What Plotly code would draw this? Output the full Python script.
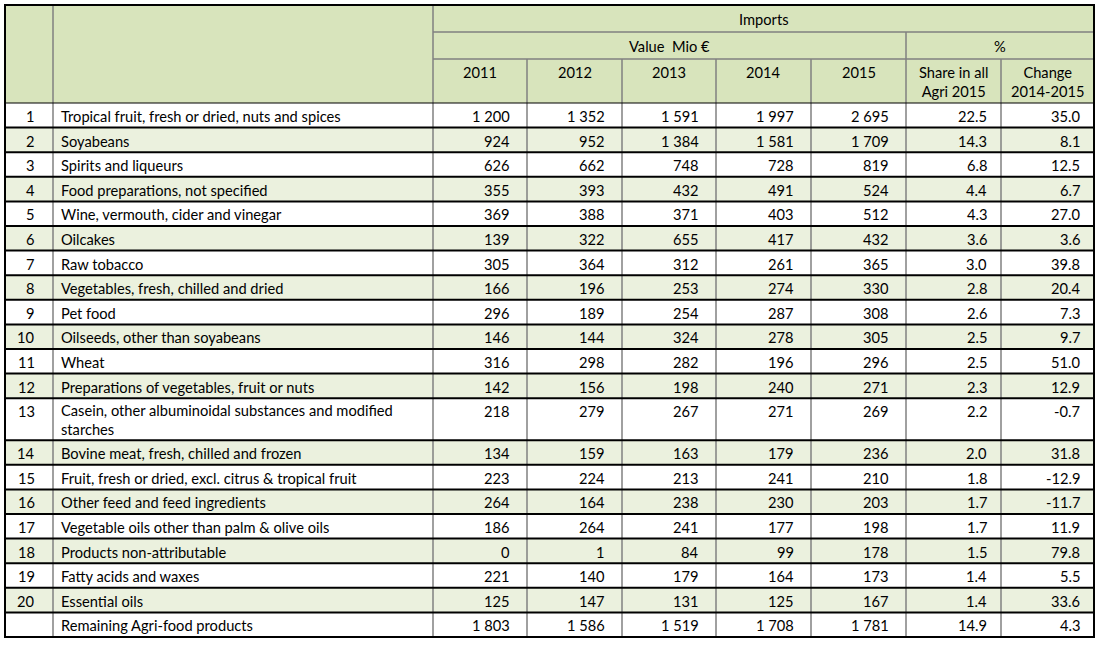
import plotly.graph_objects as go

# ---------------- data ----------------
ranks = ["1", "2", "3", "4", "5", "6", "7", "8", "9", "10", "11", "12", "13", "14",
         "15", "16", "17", "18", "19", "20", ""]
labels = [
    "Tropical fruit, fresh or dried, nuts and spices",
    "Soyabeans",
    "Spirits and liqueurs",
    "Food preparations, not specified",
    "Wine, vermouth, cider and vinegar",
    "Oilcakes",
    "Raw tobacco",
    "Vegetables, fresh, chilled and dried",
    "Pet food",
    "Oilseeds, other than soyabeans",
    "Wheat",
    "Preparations of vegetables, fruit or nuts",
    "Casein, other albuminoidal substances and modified<br>starches",
    "Bovine meat, fresh, chilled and frozen",
    "Fruit, fresh or dried, excl. citrus & tropical fruit",
    "Other feed and feed ingredients",
    "Vegetable oils other than palm & olive oils",
    "Products non-attributable",
    "Fatty acids and waxes",
    "Essential oils",
    "Remaining Agri-food products",
]
v2011 = [1200, 924, 626, 355, 369, 139, 305, 166, 296, 146, 316, 142, 218, 134, 223, 264, 186, 0, 221, 125, 1803]
v2012 = [1352, 952, 662, 393, 388, 322, 364, 196, 189, 144, 298, 156, 279, 159, 224, 164, 264, 1, 140, 147, 1586]
v2013 = [1591, 1384, 748, 432, 371, 655, 312, 253, 254, 324, 282, 198, 267, 163, 213, 238, 241, 84, 179, 131, 1519]
v2014 = [1997, 1581, 728, 491, 403, 417, 261, 274, 287, 278, 196, 240, 271, 179, 241, 230, 177, 99, 164, 125, 1708]
v2015 = [2695, 1709, 819, 524, 512, 432, 365, 330, 308, 305, 296, 271, 269, 236, 210, 203, 198, 178, 173, 167, 1781]
share = [22.5, 14.3, 6.8, 4.4, 4.3, 3.6, 3.0, 2.8, 2.6, 2.5, 2.5, 2.3, 2.2, 2.0, 1.8, 1.7, 1.7, 1.5, 1.4, 1.4, 14.9]
change = [35.0, 8.1, 12.5, 6.7, 27.0, 3.6, 39.8, 20.4, 7.3, 9.7, 51.0, 12.9, -0.7, 31.8, -12.9, -11.7, 11.9, 79.8, 5.5, 33.6, 4.3]

years = ["2011", "2012", "2013", "2014", "2015"]
header_top = "Imports"
header_value = "Value  Mio €"
header_pct = "%"
header_share = "Share in all<br>Agri 2015"
header_change = "Change<br>2014-2015"

# ---------------- layout constants ----------------
W, H = 1100, 646
col_edges = [5, 53, 433, 527, 622, 716, 811, 906, 1001, 1094]
hdr_y = [5, 32, 59, 103]
row_h = 24.6
tall_h = 42.0
FONT = "Lato"
FS = 14.67
HDR_FILL = "#D8E4BC"
ALT_FILL = "#EBF1DE"
GREY = "#808080"


def fmt_int(v):
    return f"{v:,}".replace(",", " ")


def fmt_pct(v):
    return f"{v:.1f}"


# row tops
row_tops = []
y = hdr_y[-1]
for lab in labels:
    row_tops.append(y)
    y += tall_h if "<br>" in lab else row_h
table_bottom = y

shapes = []
annotations = []


def rect(x0, y0, x1, y1, fill):
    shapes.append(dict(type="rect", xref="x", yref="y", x0=x0, x1=x1, y0=y0, y1=y1,
                       fillcolor=fill, line=dict(width=0), layer="below"))


def line(x0, y0, x1, y1, color, width):
    shapes.append(dict(type="line", xref="x", yref="y", x0=x0, x1=x1, y0=y0, y1=y1,
                       line=dict(color=color, width=width), layer="above"))


def text(x, y, s, xanchor="center", yanchor="middle", align="center"):
    annotations.append(dict(x=x, y=y, xref="x", yref="y", text=s, showarrow=False,
                            xanchor=xanchor, yanchor=yanchor, align=align,
                            font=dict(family=FONT, size=FS, color="#000000")))


# backgrounds
rect(col_edges[0], hdr_y[0], col_edges[-1], hdr_y[-1], HDR_FILL)
for i, top in enumerate(row_tops):
    bot = row_tops[i + 1] if i + 1 < len(row_tops) else table_bottom
    fill = ALT_FILL if i % 2 == 1 else "#FFFFFF"
    rect(col_edges[0], top, col_edges[-1], bot, fill)

# header grey lines
line(col_edges[2], hdr_y[1], col_edges[-1], hdr_y[1], GREY, 1.5)
line(col_edges[2], hdr_y[2], col_edges[-1], hdr_y[2], GREY, 1.5)

# vertical grey lines
line(col_edges[1], hdr_y[0], col_edges[1], table_bottom, GREY, 1.5)
line(col_edges[2], hdr_y[0], col_edges[2], table_bottom, GREY, 1.5)
line(col_edges[7], hdr_y[1], col_edges[7], table_bottom, GREY, 1.5)
for k in [3, 4, 5, 6, 8]:
    line(col_edges[k], hdr_y[2], col_edges[k], table_bottom, GREY, 1.5)

# horizontal black lines between rows
line(col_edges[0], hdr_y[-1], col_edges[-1], hdr_y[-1], "#000000", 1.2)
for top in row_tops[1:]:
    line(col_edges[0], top, col_edges[-1], top, "#000000", 2)

# outer border
shapes.append(dict(type="rect", xref="x", yref="y", x0=col_edges[0], x1=col_edges[-1],
                   y0=hdr_y[0], y1=table_bottom, line=dict(color="#000000", width=2),
                   fillcolor="rgba(0,0,0,0)", layer="above"))

# header texts
text((col_edges[2] + col_edges[-1]) / 2, (hdr_y[0] + hdr_y[1]) / 2 + 1, header_top)
text((col_edges[2] + col_edges[7]) / 2, (hdr_y[1] + hdr_y[2]) / 2 + 1, header_value)
text((col_edges[7] + col_edges[-1]) / 2, (hdr_y[1] + hdr_y[2]) / 2 + 1, header_pct)
for k, yr in enumerate(years):
    text((col_edges[2 + k] + col_edges[3 + k]) / 2, hdr_y[2] + 13.5, yr)
text((col_edges[7] + col_edges[8]) / 2, hdr_y[2] + 22.5, header_share)
text((col_edges[8] + col_edges[9]) / 2, hdr_y[2] + 22.5, header_change)

# body texts
value_cols = [v2011, v2012, v2013, v2014, v2015]
for i, top in enumerate(row_tops):
    yc = top + 13.5
    text(col_edges[1] - 16, yc, ranks[i], xanchor="right")
    if "<br>" in labels[i]:
        text(col_edges[1] + 6, yc + 8.5, labels[i], xanchor="left", align="left")
    else:
        text(col_edges[1] + 6, yc, labels[i], xanchor="left", align="left")
    for k, vals in enumerate(value_cols):
        text(col_edges[3 + k] - 15, yc, fmt_int(vals[i]), xanchor="right")
    text(col_edges[8] - 12, yc, fmt_pct(share[i]), xanchor="right")
    text(col_edges[9] - 12, yc, fmt_pct(change[i]), xanchor="right")

fig = go.Figure()
fig.update_layout(
    width=W, height=H, autosize=False,
    margin=dict(l=0, r=0, t=0, b=0),
    paper_bgcolor="#FFFFFF", plot_bgcolor="#FFFFFF",
    xaxis=dict(range=[0, W], visible=False, fixedrange=True),
    yaxis=dict(range=[H, 0], visible=False, fixedrange=True),
    shapes=shapes, annotations=annotations, showlegend=False,
)
fig.write_html("out.html", config={"displayModeBar": False},
               post_script="document.body.style.margin='0';document.body.style.overflow='hidden';")
